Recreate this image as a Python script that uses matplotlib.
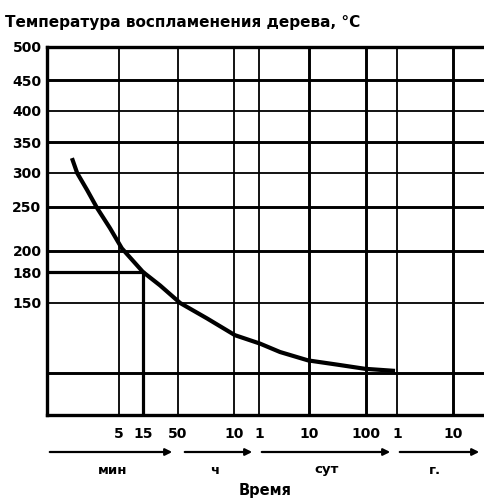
import numpy as np
import matplotlib.pyplot as plt
from matplotlib.patches import FancyArrowPatch

# Кривая: время (мин) и температура воспламенения (°C)
time_min = [0.61, 0.77, 1.2, 1.87, 3.34, 5.7, 15, 27, 55, 181, 621, 1507,
            3785, 13800, 44600, 138000, 484000]
temp_c = [324, 300, 275, 249, 226, 203, 180, 167, 150, 139, 127, 121,
          115, 109, 106, 103, 101.5]

# Отметка 15 мин -> 180 °C
mark_time = 15
mark_temp = 180

# Оси: деления
x_ticks = [5, 15, 50, 600, 1440, 14400, 144000, 525600, 5256000]
x_labels = ['5', '15', '50', '10', '1', '10', '100', '1', '10']
y_ticks = [150, 180, 200, 250, 300, 350, 400, 450, 500]
y_labels = ['150', '180', '200', '250', '300', '350', '400', '450', '500']
x_grid = [5, 50, 600, 1440, 14400, 144000, 525600, 5256000]
x_grid_thick = [14400, 144000, 5256000]
y_grid = [100, 150, 200, 250, 300, 350, 400, 450]
y_grid_thick = [100, 200, 250, 350, 450]
units = ['мин', 'ч', 'сут', 'г.']

# Нелинейные шкалы (как на исходном графике)
lx = np.log10([0.2, 5, 15, 50, 600, 1440, 14400, 144000, 525600, 5256000, 1.87e7])
px = np.array([47, 119, 143, 178, 234, 259, 309, 366, 397, 453, 484], dtype=float)
ly = np.array([75, 100, 150, 180, 200, 250, 300, 350, 400, 450, 500], dtype=float)
py = np.array([0, 42, 112, 143, 164, 208, 242, 273, 304, 335, 368], dtype=float)


def fwd_x(v):
    return np.interp(np.log10(np.clip(v, 1e-9, None)), lx, px)


def inv_x(p):
    return 10 ** np.interp(p, px, lx)


def fwd_y(v):
    return np.interp(v, ly, py)


def inv_y(p):
    return np.interp(p, py, ly)


plt.rcParams['font.family'] = ['DejaVu Sans']
plt.rcParams['font.weight'] = 'bold'

fig = plt.figure(figsize=(4.84, 5.0), dpi=100)
ax = fig.add_axes([47 / 484, 85 / 500, 437 / 484, 368 / 500])
ax.set_xscale('function', functions=(fwd_x, inv_x))
ax.set_yscale('function', functions=(fwd_y, inv_y))
ax.set_xlim(0.2, 1.87e7)
ax.set_ylim(75, 500)

# Сетка
for v in y_grid:
    ax.axhline(v, color='black', lw=2.1 if v in y_grid_thick else 1.3, zorder=1)
for v in x_grid:
    ax.axvline(v, color='black', lw=2.1 if v in x_grid_thick else 1.3, zorder=1)

# Отметка 15 мин / 180 °C
ax.plot([0.2, mark_time], [mark_temp, mark_temp], color='black', lw=2.3, zorder=2)
ax.plot([mark_time, mark_time], [75, mark_temp], color='black', lw=2.3, zorder=2)

# Кривая
ax.plot(time_min, temp_c, color='black', lw=3.0, solid_capstyle='butt',
        solid_joinstyle='round', zorder=3)

for s in ['left', 'top', 'bottom']:
    ax.spines[s].set_linewidth(2.4)
ax.spines['right'].set_visible(False)

ax.set_xticks(x_ticks, x_labels)
ax.set_yticks(y_ticks, y_labels)
ax.xaxis.set_minor_locator(plt.NullLocator())
ax.yaxis.set_minor_locator(plt.NullLocator())
ax.tick_params(axis='x', length=0, pad=9, labelsize=10)
ax.tick_params(axis='y', length=0, pad=4, labelsize=10)

fig.text(5 / 484, 1 - 22 / 500, 'Температура воспламенения дерева, °С',
         ha='left', va='center', fontsize=11, fontweight='bold')

# Стрелки единиц времени
segments = [(47, 175), (182, 255), (259, 393), (397, 482)]
for x0, x1 in segments:
    fig.add_artist(FancyArrowPatch(
        (x0 / 484, 1 - 452 / 500), (x1 / 484, 1 - 452 / 500),
        transform=fig.transFigure, arrowstyle='-|>', mutation_scale=10,
        lw=1.6, color='black'))
unit_x = [113, 215, 327, 435]
for u, x in zip(units, unit_x):
    fig.text(x / 484, 1 - 470 / 500, u, ha='center', va='center', fontsize=9.5)
fig.text(265 / 484, 1 - 490 / 500, 'Время', ha='center', va='center', fontsize=10.5)

fig.savefig('out.png', dpi=100)
